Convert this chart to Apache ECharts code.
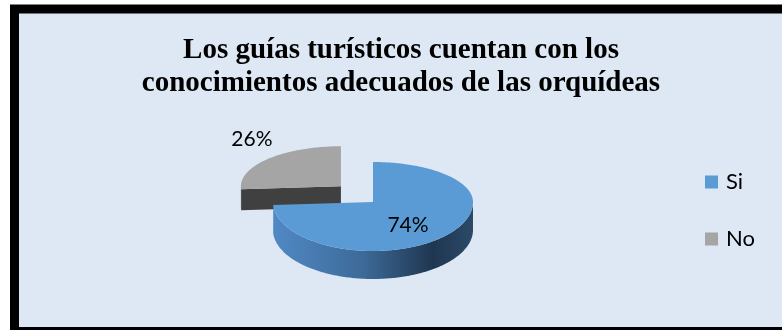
<!DOCTYPE html>
<html>
<head>
<meta charset="utf-8">
<script src="https://cdn.jsdelivr.net/npm/echarts@6/dist/echarts.min.js"></script>
<style>
  html, body { margin: 0; padding: 0; background: #ffffff; }
  #chart { width: 782px; height: 330px; }
</style>
</head>
<body>
<div id="chart"></div>
<script>
// Chart text and values
const titleLines = ['Los guías turísticos cuentan con los', 'conocimientos adecuados de las orquídeas'];
const categories = ['Si', 'No'];
const percentages = [74, 26];

// Layout of the tilted pie (pixels)
const PIE = { cx: 373, cy: 202, rx: 100, ryBack: 40, ryFront: 49, explodeX: 44, explodeY: 23 };

// Per-slice styling, same order as categories
const SLICE_STYLE = [
  {
    top: '#5B9BD5',
    wall: new echarts.graphic.LinearGradient(0, 0, 1, 0, [
      { offset: 0, color: '#5089C5' },
      { offset: 0.45, color: '#3D6A98' },
      { offset: 0.8, color: '#1F3650' },
      { offset: 1, color: '#2B4A68' }
    ]),
    cut: '#2F5478',
    explode: 0, depth: 28, z: 3, labelOffset: [35, 23]
  },
  {
    top: '#A5A5A5', wall: '#404040', cut: '#404040',
    explode: 1, depth: 21, z: 2, labelOffset: [-89, -47]
  }
];

const RAD = Math.PI / 180;

// Point on the rim; angle in degrees, clockwise from 12 o'clock
function rimPoint(ax, ay, deg) {
  const c = Math.cos(deg * RAD);
  const ry = c > 0 ? PIE.ryBack : PIE.ryFront;
  return [ax + PIE.rx * Math.sin(deg * RAD), ay - ry * c];
}

function arcPoints(ax, ay, d0, d1) {
  const pts = [];
  const n = Math.max(2, Math.ceil(d1 - d0));
  for (let k = 0; k <= n; k++) pts.push(rimPoint(ax, ay, d0 + (d1 - d0) * k / n));
  return pts;
}

function renderSlice(params, api) {
  const i = params.seriesIndex;
  const st = SLICE_STYLE[i];
  const total = percentages.reduce((a, b) => a + b, 0);
  const value = api.value(0);
  let before = 0;
  for (let k = 0; k < i; k++) before += percentages[k];
  const a0 = before / total * 360;
  const a1 = (before + value) / total * 360;
  const mid = (a0 + a1) / 2;

  const ax = PIE.cx + st.explode * PIE.explodeX * Math.sin(mid * RAD);
  const ay = PIE.cy - st.explode * PIE.explodeY * Math.cos(mid * RAD);
  const d = st.depth;
  const children = [];

  // outer wall, only the part facing the viewer
  const w0 = Math.max(a0, 90), w1 = Math.min(a1, 270);
  if (w1 > w0) {
    const upper = arcPoints(ax, ay, w0, w1);
    const lower = upper.map(p => [p[0], p[1] + d]).reverse();
    children.push({ type: 'polygon', shape: { points: upper.concat(lower) }, style: { fill: st.wall } });
  }

  // radial cut faces that face the viewer
  [[a0, a0 - 90], [a1, a1 + 90]].forEach(([edge, normal]) => {
    if (Math.cos(normal * RAD) < -0.01) {
      const p = rimPoint(ax, ay, edge);
      children.push({
        type: 'polygon',
        shape: { points: [[ax, ay], p, [p[0], p[1] + d], [ax, ay + d]] },
        style: { fill: st.cut }
      });
    }
  });

  // top face
  children.push({
    type: 'polygon',
    shape: { points: [[ax, ay]].concat(arcPoints(ax, ay, a0, a1)) },
    style: { fill: st.top }
  });

  // percentage label
  children.push({
    type: 'text',
    style: {
      text: value + '%',
      x: ax + st.labelOffset[0], y: ay + st.labelOffset[1],
      align: 'center', verticalAlign: 'middle',
      fontFamily: 'Lato', fontSize: 21, fill: '#000000'
    }
  });

  return { type: 'group', children };
}

const chart = echarts.init(document.getElementById('chart'), null, { renderer: 'canvas' });

chart.setOption({
  animation: false,
  backgroundColor: '#ffffff',
  graphic: [
    {
      type: 'rect', z: -10,
      shape: { x: 14.5, y: 9, width: 800, height: 322.5 },
      style: { fill: '#DDE8F4', stroke: '#000000', lineWidth: 9 }
    },
    {
      type: 'text', z: 10,
      style: {
        text: titleLines.join('\n'),
        x: 401, y: 34, align: 'center', verticalAlign: 'top',
        fontFamily: '"Liberation Serif", "Times New Roman", serif',
        fontWeight: 'bold', fontSize: 29, lineHeight: 33, fill: '#000000'
      }
    }
  ],
  legend: {
    orient: 'vertical',
    left: 705, top: 171, padding: 0,
    itemWidth: 13, itemHeight: 13, itemGap: 35,
    icon: 'rect',
    data: categories,
    textStyle: { fontFamily: 'Lato', fontSize: 22, lineHeight: 22, color: '#000000', padding: [0, 0, 0, 3] }
  },
  series: categories.map((name, i) => ({
    type: 'custom',
    name: name,
    coordinateSystem: 'none',
    z: SLICE_STYLE[i].z,
    itemStyle: { color: SLICE_STYLE[i].top },
    data: [[percentages[i]]],
    renderItem: renderSlice
  }))
});
</script>
</body>
</html>
